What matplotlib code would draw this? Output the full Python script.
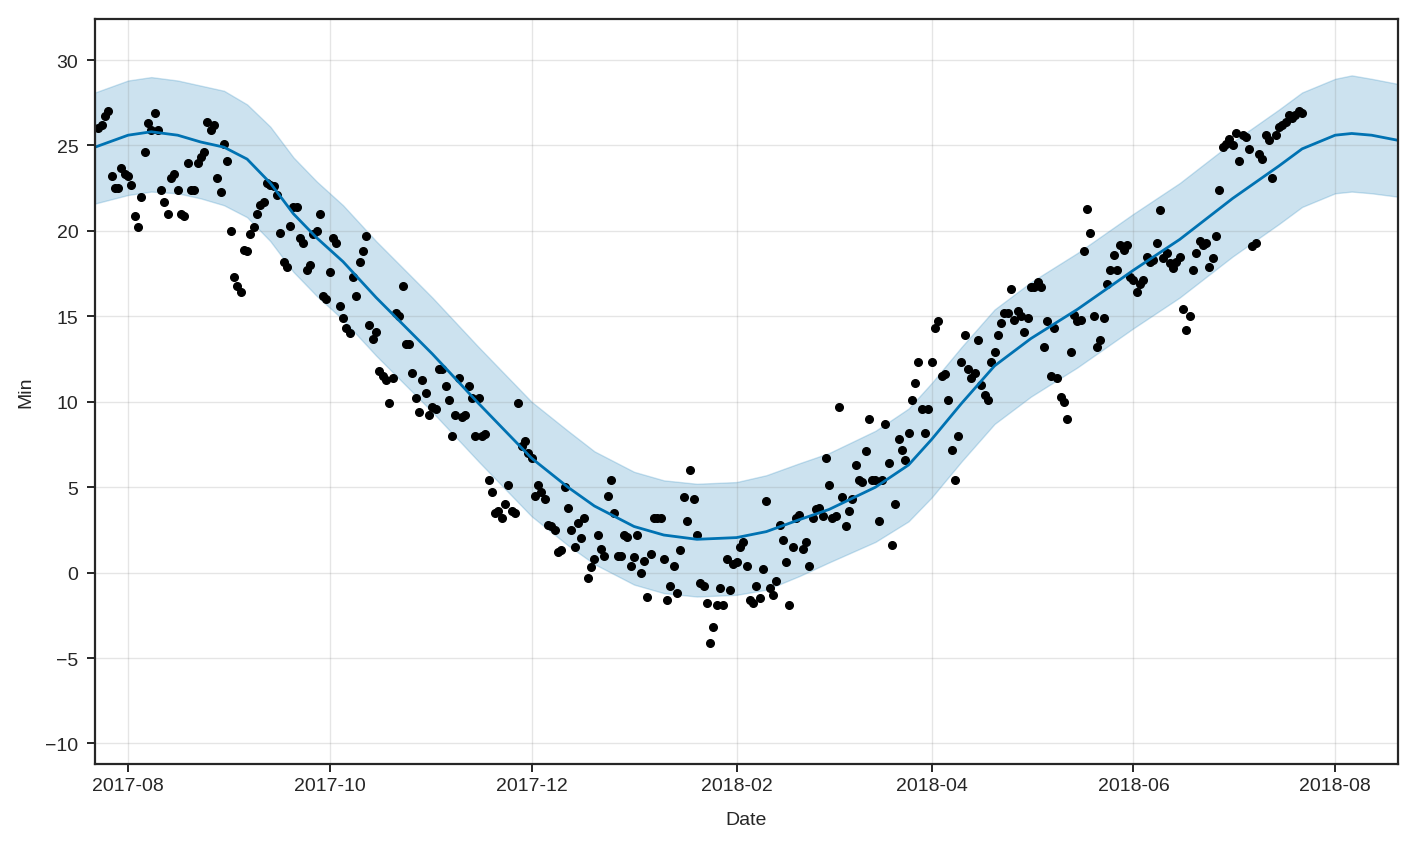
import numpy as np
import pandas as pd
import matplotlib
matplotlib.use("Agg")
import matplotlib.pyplot as plt
import matplotlib.dates as mdates

# observed daily minimum temperature, one value per day from 2017-07-23
obs_start = "2017-07-23"
min_vals = [
    26.0, 26.2, 26.7, 27.0, 23.2, 22.5, 22.5, 23.7, 23.3, 23.2,
    22.7, 20.9, 20.2, 22.0, 24.6, 26.3, 25.9, 26.9, 25.9, 22.4,
    21.7, 21.0, 23.1, 23.3, 22.4, 21.0, 20.9, 24.0, 22.4, 22.4,
    24.0, 24.3, 24.6, 26.4, 25.9, 26.2, 23.1, 22.3, 25.1, 24.1,
    20.0, 17.3, 16.8, 16.4, 18.9, 18.8, 19.8, 20.2, 21.0, 21.5,
    21.7, 22.8, 22.7, 22.6, 22.1, 19.9, 18.2, 17.9, 20.3, 21.4,
    21.4, 19.6, 19.3, 17.7, 18.0, 19.8, 20.0, 21.0, 16.2, 16.0,
    17.6, 19.6, 19.3, 15.6, 14.9, 14.3, 14.0, 17.3, 16.2, 18.2,
    18.8, 19.7, 14.5, 13.7, 14.1, 11.8, 11.5, 11.3, 9.9, 11.4,
    15.2, 15.0, 16.8, 13.4, 13.4, 11.7, 10.2, 9.4, 11.3, 10.5,
    9.2, 9.7, 9.6, 11.9, 11.9, 10.9, 10.1, 8.0, 9.2, 11.4,
    9.1, 9.2, 10.9, 10.2, 8.0, 10.2, 8.0, 8.1, 5.4, 4.7,
    3.5, 3.6, 3.2, 4.0, 5.1, 3.6, 3.5, 9.9, 7.4, 7.7,
    7.0, 6.7, 4.5, 5.1, 4.7, 4.3, 2.8, 2.7, 2.5, 1.2,
    1.3, 5.0, 3.8, 2.5, 1.5, 2.9, 2.0, 3.2, -0.3, 0.3,
    0.8, 2.2, 1.4, 1.0, 4.5, 5.4, 3.5, 1.0, 1.0,
    2.2, 2.1, 0.4, 0.9, 2.2, 0.0, 0.7, -1.4, 1.1, 3.2,
    3.2, 3.2, 0.8, -1.6, -0.8, 0.4, -1.2, 1.3, 4.4, 3.0,
    6.0, 4.3, 2.2, -0.6, -0.8, -1.8, -4.1, -3.2, -1.9, -0.9,
    -1.9, 0.8, -1.0, 0.5, 0.6, 1.5, 1.8, 0.4, -1.6, -1.8,
    -0.8, -1.5, 0.2, 4.2, -0.9, -1.3, -0.5, 2.8, 1.9, 0.6,
    -1.9, 1.5, 3.2, 3.4, 1.4, 1.8, 0.4, 3.2, 3.7, 3.8,
    3.3, 6.7, 5.1, 3.2, 3.3, 9.7, 4.4, 2.7, 3.6, 4.3,
    6.3, 5.4, 5.3, 7.1, 9.0, 5.4, 5.4, 3.0, 5.4, 8.7,
    6.4, 1.6, 4.0, 7.8, 7.2, 6.6, 8.2, 10.1, 11.1, 12.3,
    9.6, 8.2, 9.6, 12.3, 14.3, 14.7, 11.5, 11.6, 10.1,
    7.2, 5.4, 8.0, 12.3, 13.9, 11.9, 11.4, 11.7, 13.6, 11.0,
    10.4, 10.1, 12.3, 12.9, 13.9, 14.6, 15.2, 15.2, 16.6, 14.8,
    15.3, 15.0, 14.1, 14.9, 16.7, 16.7, 17.0, 16.7, 13.2, 14.7,
    11.5, 14.3, 11.4, 10.3, 10.0, 9.0, 12.9, 15.1, 14.7, 14.8,
    18.8, 21.3, 19.9, 15.0, 13.2, 13.6, 14.9, 16.9, 17.7, 18.6,
    17.7, 19.2, 18.9, 19.2, 17.3, 17.1, 16.4, 16.9, 17.1, 18.5,
    18.2, 18.3, 19.3, 21.2, 18.4, 18.7, 18.1, 17.8, 18.2,
    18.5, 15.4, 14.2, 15.0, 17.7, 18.7, 19.4, 19.2, 19.3, 17.9,
    18.4, 19.7, 22.4, 24.9, 25.1, 25.4, 25.0, 25.7, 24.1,
    25.6, 25.5, 24.8, 19.1, 19.3, 24.5, 24.2, 25.6, 25.3, 23.1,
    25.6, 26.1, 26.2, 26.4, 26.8, 26.6, 26.8, 27.0, 26.9,
]

# forecast (yhat) and uncertainty interval, read at knot dates
fc_dates = [
    "2017-07-22", "2017-08-01", "2017-08-08", "2017-08-16", "2017-08-23",
    "2017-08-30", "2017-09-06", "2017-09-13", "2017-09-20", "2017-09-27",
    "2017-10-05", "2017-10-15", "2017-11-01", "2017-11-15", "2017-12-01",
    "2017-12-12", "2017-12-20", "2018-01-01", "2018-01-10", "2018-01-20",
    "2018-02-01", "2018-02-10", "2018-02-20", "2018-03-01", "2018-03-15",
    "2018-03-25", "2018-04-01", "2018-04-10", "2018-04-20", "2018-05-01",
    "2018-05-15", "2018-06-01", "2018-06-15", "2018-07-01", "2018-07-15",
    "2018-07-22", "2018-08-01", "2018-08-06", "2018-08-12", "2018-08-20",
]
yhat = [
    24.9, 25.6, 25.8, 25.6, 25.2,
    24.9, 24.2, 22.8, 21.0, 19.6,
    18.2, 16.1, 12.8, 9.9, 6.7,
    5.0, 3.9, 2.7, 2.2, 1.95,
    2.05, 2.4, 3.1, 3.7, 5.0,
    6.3, 7.8, 9.9, 12.1, 13.7,
    15.4, 17.7, 19.5, 21.9, 23.8,
    24.8, 25.6, 25.7, 25.6, 25.3,
]
yhat_upper = [
    28.1, 28.8, 29.0, 28.8, 28.5,
    28.2, 27.4, 26.1, 24.3, 22.9,
    21.5, 19.4, 16.1, 13.2, 10.0,
    8.3, 7.1, 5.9, 5.4, 5.2,
    5.3, 5.7, 6.4, 7.0, 8.3,
    9.6, 11.1, 13.2, 15.4, 17.0,
    18.7, 21.0, 22.8, 25.2, 27.1,
    28.1, 28.9, 29.1, 28.9, 28.6,
]
yhat_lower = [
    21.6, 22.1, 22.3, 22.2, 21.9,
    21.5, 20.8, 19.4, 17.6, 16.2,
    14.8, 12.7, 9.4, 6.5, 3.3,
    1.6, 0.5, -0.7, -1.2, -1.4,
    -1.3, -1.0, -0.2, 0.6, 1.8,
    3.0, 4.4, 6.5, 8.7, 10.3,
    12.0, 14.3, 16.1, 18.5, 20.4,
    21.4, 22.2, 22.3, 22.2, 22.0,
]

obs_dates = pd.date_range(obs_start, periods=len(min_vals), freq="D")
fc_dates = pd.to_datetime(fc_dates)

plt.rcParams["font.family"] = ["Liberation Sans", "DejaVu Sans"]

fig = plt.figure(figsize=(14.2, 8.45), dpi=100)
ax = fig.add_axes([95 / 1420, 80 / 845, 1303 / 1420, 745 / 845])

ax.plot(obs_dates, min_vals, "k.", markersize=11)
ax.plot(fc_dates, yhat, ls="-", c="#0072B2", lw=2)
ax.fill_between(fc_dates, yhat_lower, yhat_upper, color="#0072B2", alpha=0.2)

ax.grid(True, which="major", c="gray", ls="-", lw=1, alpha=0.2)
ax.set_xlim(pd.Timestamp("2017-07-22"), pd.Timestamp("2018-08-20"))
ax.set_ylim(-11.2, 32.4)
ax.set_yticks(np.arange(-10, 31, 5))
ax.xaxis.set_major_locator(mdates.MonthLocator(bymonth=[2, 4, 6, 8, 10, 12]))
ax.xaxis.set_major_formatter(mdates.DateFormatter("%Y-%m"))

for s in ax.spines.values():
    s.set_color("#262626")
    s.set_linewidth(1.6)
ax.tick_params(direction="out", length=6, width=1.4, color="#262626",
               labelcolor="#262626", labelsize=14)
ax.tick_params(axis="y", pad=6)

ax.set_xlabel("Date", fontsize=14, color="#262626", labelpad=12)
ax.set_ylabel("Min", fontsize=14, color="#262626", labelpad=8)

fig.savefig("out.png", dpi=100)
